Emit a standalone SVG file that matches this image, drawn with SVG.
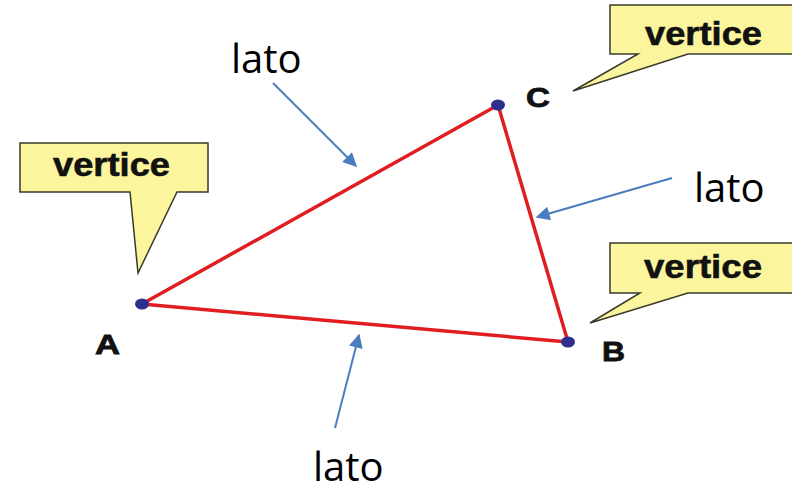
<svg xmlns="http://www.w3.org/2000/svg" width="792" height="492" viewBox="0 0 792 492">
<defs>
<style>
.callout{fill:#FBF69E;stroke:#3a3a2a;stroke-width:1.5;stroke-linejoin:miter}
.vt{font-family:"Liberation Sans",Arial,sans-serif;font-weight:bold;font-size:33px;fill:#111;stroke:#111;stroke-width:0.6}
.lbl{font-family:"Liberation Sans",Arial,sans-serif;font-weight:bold;font-size:27px;fill:#111;stroke:#111;stroke-width:0.8}
.lato{font-family:"Open Sans","Noto Sans",sans-serif;font-size:40px;fill:#000}
.side{stroke:#E01E22;stroke-width:3.5;fill:none;stroke-linecap:round}
.dot{fill:#2D2F8E}
.arr{stroke:#4A7DBE;stroke-width:2;fill:none;marker-end:url(#ah)}
</style>
<marker id="ah" viewBox="0 0 10 10" refX="9" refY="5" markerWidth="8.5" markerHeight="7" markerUnits="strokeWidth" orient="auto">
<path d="M0,0 L10,5 L0,10 Z" fill="#4A7DBE"/>
</marker>
</defs>
<rect width="792" height="492" fill="#fff"/>
<g id="callout-A">
<path class="callout" d="M20,143 H208 V192 H177 L138,273 L130,192 H20 Z"/>
<text class="vt" x="53" y="176" textLength="117" lengthAdjust="spacingAndGlyphs">vertice</text>
</g>
<g id="callout-C">
<path class="callout" d="M610,5 H800 V54 H688 L573,91 L638,54 H610 Z"/>
<text class="vt" x="645" y="45" textLength="117" lengthAdjust="spacingAndGlyphs">vertice</text>
</g>
<g id="callout-B">
<path class="callout" d="M610,243 H800 V293 H688 L590,323 L640,293 H610 Z"/>
<text class="vt" x="644" y="278" textLength="118" lengthAdjust="spacingAndGlyphs">vertice</text>
</g>
<g id="triangle">
<line class="side" x1="142" y1="304" x2="498" y2="105"/>
<line class="side" x1="498" y1="105" x2="568" y2="342"/>
<line class="side" x1="142" y1="304" x2="568" y2="342"/>
</g>
<g id="vertex-A">
<ellipse class="dot" cx="142" cy="304" rx="7" ry="5.5"/>
<text class="lbl" x="95" y="354" textLength="25" lengthAdjust="spacingAndGlyphs">A</text>
</g>
<g id="vertex-B">
<ellipse class="dot" cx="568" cy="342" rx="7" ry="5.5"/>
<text class="lbl" x="602" y="361" textLength="23" lengthAdjust="spacingAndGlyphs">B</text>
</g>
<g id="vertex-C">
<ellipse class="dot" cx="498" cy="105" rx="7" ry="5.5"/>
<text class="lbl" x="526" y="107" textLength="24" lengthAdjust="spacingAndGlyphs">C</text>
</g>
<g id="connectors">
<line class="arr" x1="273" y1="83" x2="356" y2="166"/>
<line class="arr" x1="672" y1="178" x2="537" y2="217"/>
<line class="arr" x1="335" y1="428" x2="359" y2="335"/>
</g>
<g id="label-lato-top"><text class="lato" x="231" y="73">lato</text></g>
<g id="label-lato-right"><text class="lato" x="694" y="202">lato</text></g>
<g id="label-lato-bottom"><text class="lato" x="313" y="481" font-size="39">lato</text></g>
</svg>
